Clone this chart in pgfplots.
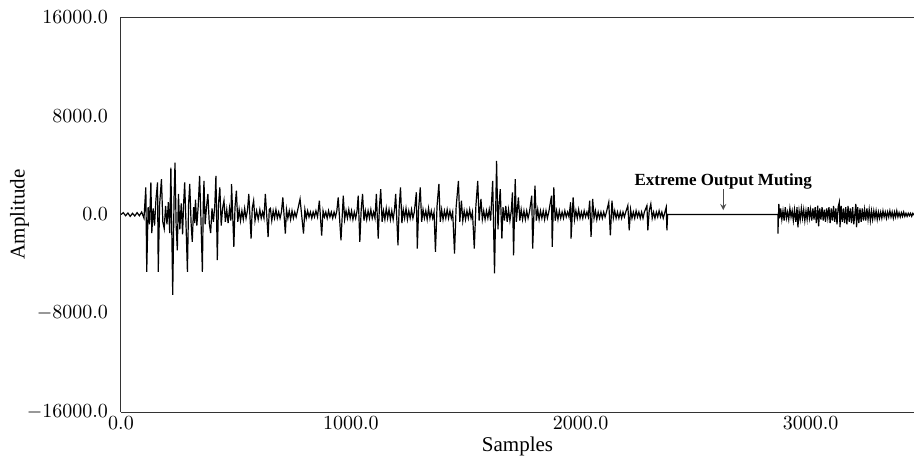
\documentclass[border=0pt]{standalone}
\usepackage{pgfplots}
\pgfplotsset{compat=1.18}
\usepackage{fontspec}
\setmainfont{Liberation Serif}

\begin{document}
\begin{tikzpicture}
\begin{axis}[
  scale only axis,
  width=396.5pt, height=197.5pt,
  xmin=0, xmax=3450,
  ymin=-16000, ymax=16000,
  axis x line*=box, axis y line*=left,
  axis line style={black!80, line width=0.5pt},
  xtick={0,1000,2000,3000},
  ytick={-16000,-8000,0,8000,16000},
  major tick length=0pt,
  scaled ticks=false,
  /pgf/number format/.cd, fixed, fixed zerofill, precision=1, 1000 sep={},
  /pgfplots/.cd,
  xlabel={Samples},
  ylabel={Amplitude},
  every axis y label/.style={at={(axis description cs:-0.128,0.5)},rotate=90,anchor=center},
  every axis x label/.style={at={(axis description cs:0.5,0)},anchor=north,yshift=-9pt},
  label style={font=\fontsize{10.5}{12}\selectfont},
  ticklabel style={font=\fontsize{10}{12}\selectfont},
  yticklabel style={xshift=-3pt},
  xticklabel style={yshift=1pt},
  clip=true,
]
\addplot[black, line width=0.6pt] coordinates {
(0,0) (10,150) (20,-100) (30,120) (40,-150) (50,100) (60,-120) (70,150) (80,-100) (90,200) (100,-300)
(108,2200) (112,-4640) (118,600) (124,-800) (130,2600) (134,-1500) (140,500) (146,-900) (152,1200) (159,2600) (162,-4640) (168,800) (176,2870) (182,-600) (188,-1150) (194,700) (200,-800) (206,1000) (212,-1500) (217,3800) (225,-6500) (231,1500) (235,4200) (240,-1000) (245,-2900) (250,1660) (256,-1200) (262,900) (268,-1600) (272,700) (277,2600) (283,-900) (289,-4640) (294,800) (299,2470) (305,-700) (310,-2220) (316,600) (321,-700) (324,1200) (330,-900) (336,700) (342,3130) (348,-500) (354,-4640) (358,900) (361,2730) (366,-800) (372,600) (378,1660) (384,-700) (390,-1500) (396,500) (402,-600) (408,700) (413,3130) (419,-3700) (424,800) (430,2200) (436,-900) (442,500) (448,1125) (454,-600) (460,400) (466,-700) (472,500) (478,-500) (481,2470) (491,-2630) (496,600) (502,1930) (508,-600) (514,400) (520,-500) (526,300) (532,-400) (538,500) (544,-300) (550,300)
(556,1660) (566,-1960) (571,500) (577,1125) (583,-500) (590,300) (597,-400) (604,400) (610,-300) (616,200) (622,-300) (628,1660) (640,-1820) (645,400) (650,500) (656,-500) (662,300) (668,-300) (674,400) (680,-300) (686,200) (692,-300) (698,200) (704,1390) (715,-1550) (720,400) (726,-300) (732,300) (738,-400) (744,300) (750,-300) (756,200) (762,-200) (768,300) (779,1260) (794,-1550) (800,400) (806,-300) (812,300) (818,-200) (824,200) (830,-300) (836,200) (842,-200) (848,300) (855,-200) (863,1125) (873,-1700) (879,300) (885,-200) (891,200) (897,-300) (903,300) (909,-200) (915,200) (921,-300) (927,200) (933,-200) (939,300) (945,1390) (957,-2090) (967,1530) (973,-400) (979,300) (985,-300) (991,400) (997,-300) (1003,300) (1009,-400) (1015,200) (1021,-300) (1027,300)
(1032,1530) (1039,-2220) (1045,400) (1051,1660) (1057,-500) (1063,300) (1069,-400) (1075,300) (1081,-300) (1087,400) (1093,-300) (1099,200) (1105,-300) (1111,1660) (1119,-1960) (1124,500) (1130,2060) (1136,-600) (1142,300) (1148,-400) (1154,500) (1160,-300) (1166,400) (1172,-400) (1178,300) (1184,-400) (1190,400) (1195,1660) (1205,-2490) (1210,500) (1216,2200) (1222,-700) (1228,400) (1234,-300) (1240,500) (1246,-400) (1252,300) (1258,-300) (1264,400) (1270,-300) (1276,200) (1285,1800) (1289,-2760) (1295,500) (1302,2200) (1308,-600) (1314,400) (1320,-300) (1326,300) (1332,-400) (1338,500) (1344,-300) (1350,300) (1356,-300) (1362,200) (1368,-3030) (1375,700) (1383,2470) (1389,-600) (1395,400) (1401,-400) (1407,300) (1413,-300) (1419,400) (1425,-300) (1431,300) (1437,-300) (1443,200) (1451,-3160) (1458,600) (1468,2730) (1474,-600) (1481,1125) (1487,-500) (1493,300) (1499,-400) (1505,300) (1511,-300) (1517,400) (1523,-300) (1529,200)
(1537,-2760) (1544,700) (1552,2730) (1558,-500) (1566,1260) (1572,-400) (1578,300) (1584,-400) (1590,300) (1596,-300) (1602,400) (1608,-500) (1617,2730) (1625,-4770) (1634,4340) (1640,-1200) (1645,800) (1650,2060) (1657,-1960) (1662,600) (1668,-500) (1674,700) (1680,-600) (1686,400) (1692,-500) (1698,300) (1703,1800) (1708,-3300) (1715,2870) (1720,-600) (1729,1390) (1735,-500) (1741,400) (1747,-400) (1753,300) (1759,-400) (1765,300) (1771,-300) (1777,200) (1787,1530) (1791,-2760) (1801,2330) (1807,-500) (1813,400) (1819,-400) (1825,300) (1831,-300) (1837,300) (1843,-400) (1849,300) (1855,-300) (1861,200) (1873,1530) (1876,-2630) (1883,2200) (1889,-500) (1895,300) (1901,-400) (1907,300) (1913,-300) (1919,200) (1925,-300) (1931,300) (1937,-200) (1943,200) (1949,-200)
(1956,990) (1958,-1960) (1967,1390) (1973,-400) (1979,300) (1985,-300) (1991,400) (1997,-300) (2003,200) (2009,-300) (2015,300) (2021,-200) (2027,200) (2033,-200) (2039,1125) (2045,-1820) (2052,1260) (2058,-300) (2064,300) (2070,-400) (2076,200) (2082,-300) (2088,200) (2094,-300) (2100,200) (2106,-200) (2112,200) (2122,990) (2129,-1690) (2136,1125) (2142,-300) (2148,300) (2154,-300) (2160,200) (2166,-300) (2172,200) (2178,-300) (2184,200) (2190,-200) (2196,200) (2205,720) (2211,-1290) (2217,400) (2223,-300) (2229,200) (2235,-300) (2241,300) (2247,-200) (2253,200) (2259,-300) (2265,200) (2271,-300) (2277,200) (2288,720) (2292,-1290) (2298,300) (2305,860) (2311,-300) (2317,200) (2323,-300) (2329,200) (2335,-200) (2341,300) (2347,-200) (2353,200) (2359,-300) (2365,100) (2372,590) (2375,-1290) (2378,0)
(2858,0) (2858,-1550) (2862,860) (2866,-300)
(2870,500) (2875,-400) (2880,300) (2885,-500) (2890,600) (2895,-300) (2900,200) (2905,-400) (2910,500) (2915,-200) (2920,300) (2925,-500) (2930,400) (2936,-600) (2941,590) (2945,-1030) (2950,300) (2955,-400) (2960,500) (2965,-300) (2970,400) (2975,-500) (2980,300) (2985,-400) (2990,600) (2995,-300) (3000,400) (3005,-500) (3010,500) (3015,-400) (3020,600) (3025,-700) (3031,720) (3035,-950) (3040,500) (3045,-400) (3050,600) (3055,-500) (3060,400) (3065,-600) (3070,500) (3075,-300) (3080,600) (3085,-700) (3090,500) (3095,-500) (3100,700) (3105,-600) (3110,500) (3115,-800) (3120,600) (3125,990) (3128,-1030) (3133,700) (3138,-600) (3143,500) (3148,-700) (3153,600) (3158,-800) (3163,700) (3168,-600) (3173,500) (3178,-700) (3183,600) (3188,-800) (3197,860) (3200,-1030)
(3205,600) (3210,-700) (3215,500) (3220,-600) (3225,500) (3230,-500) (3235,400) (3240,-500) (3245,500) (3250,-400) (3255,400) (3260,-500) (3265,300) (3270,-400) (3275,300) (3280,-300) (3285,300) (3290,-400) (3295,200) (3300,-300) (3305,200) (3310,-300) (3315,300) (3320,-200) (3325,200) (3330,-300) (3335,200) (3340,-200) (3345,300) (3350,-200) (3355,200) (3360,-300) (3365,200) (3370,-200) (3375,300) (3380,-200) (3385,150) (3390,-200) (3395,150) (3400,-150) (3405,200) (3410,-150) (3415,100) (3420,-150) (3425,100) (3430,-100) (3435,100) (3440,-150) (3445,100) (3450,-50)
};
\node[font=\bfseries\fontsize{8.5}{10}\selectfont] at (axis cs:2620,2700) {Extreme Output Muting};
\draw[->, black!70, line width=0.4pt, >=stealth] (axis cs:2620,2050) -- (axis cs:2620,350);
\end{axis}
\pgfresetboundingbox
\useasboundingbox ([xshift=-60.5pt,yshift=-22.5pt]current axis.south west) rectangle ([yshift=8.5pt]current axis.north east);
\end{tikzpicture}
\end{document}
